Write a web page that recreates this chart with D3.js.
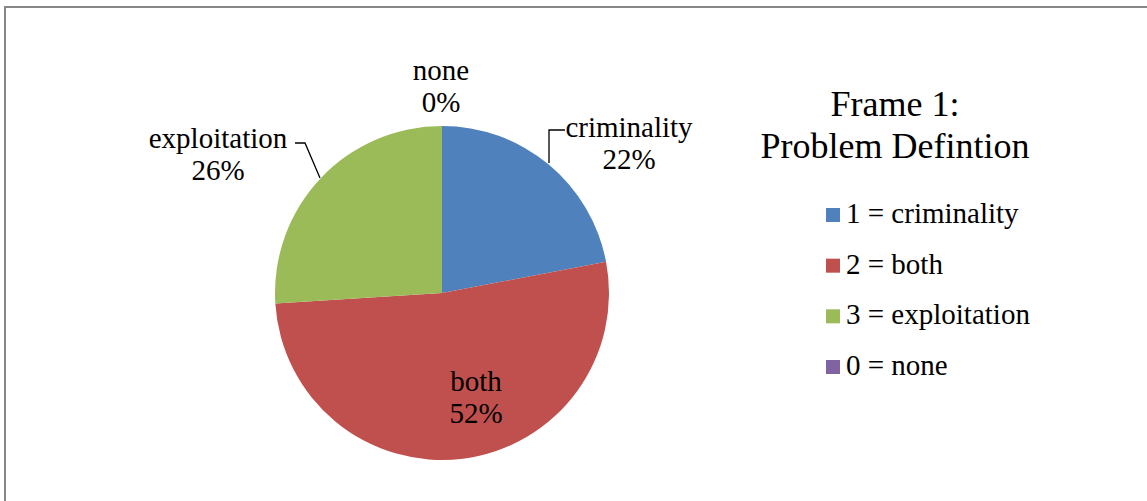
<!DOCTYPE html>
<html><head><meta charset="utf-8">
<script src="https://cdn.jsdelivr.net/npm/d3@7"></script>
<style>body{margin:0;background:#fff}svg{display:block}</style>
</head><body>
<script>
const categories = ["criminality", "both", "exploitation", "none"];
const legendLabels = ["1 = criminality", "2 = both", "3 = exploitation", "0 = none"];
const values = [22, 52, 26, 0];
const colors = ["#4F81BD", "#C0504D", "#9BBB59", "#8064A2"];
const titleLines = ["Frame 1:", "Problem Defintion"];

const W = 1147, H = 501;
const svg = d3.select("body").append("svg").attr("width", W).attr("height", H)
  .attr("font-family", "'Liberation Serif', 'Times New Roman', serif");
svg.append("path").attr("d", "M5,501 V7 H1147").attr("fill", "none").attr("stroke", "#878787").attr("stroke-width", 2);

const cx = 442, cy = 293, R = 167;
const pie = d3.pie().sort(null).value(d => d)(values);
const arc = d3.arc().innerRadius(0).outerRadius(R);
const g = svg.append("g").attr("transform", `translate(${cx},${cy})`);
g.selectAll("path").data(pie).enter().append("path")
  .attr("d", arc).attr("fill", (d, i) => colors[i]);

const total = d3.sum(values);
const labelPos = [[629, 137], [476, 391], [218, 148], [441, 80]];
const fs = 29;
categories.forEach((c, i) => {
  const t = svg.append("text").attr("text-anchor", "middle").attr("font-size", fs)
    .attr("x", labelPos[i][0]).attr("y", labelPos[i][1]);
  t.append("tspan").attr("x", labelPos[i][0]).text(c);
  t.append("tspan").attr("x", labelPos[i][0]).attr("dy", 31.5).text(Math.round(values[i] / total * 100) + "%");
});
// leader lines
svg.append("path").attr("d", "M565,130 H549 V163").attr("fill", "none").attr("stroke", "#000").attr("stroke-width", 1.3);
svg.append("path").attr("d", "M295,143 H305 L320,178").attr("fill", "none").attr("stroke", "#000").attr("stroke-width", 1.3);

// title
titleLines.forEach((l, i) => {
  svg.append("text").attr("x", 895).attr("y", 116 + i * 42).attr("text-anchor", "middle")
    .attr("font-size", 36).text(l);
});

// legend
const ly = d3.scalePoint().domain(legendLabels).range([215, 367]);
legendLabels.forEach((l, i) => {
  svg.append("rect").attr("x", 826).attr("y", ly(l) - 7).attr("width", 14).attr("height", 14).attr("fill", colors[i]);
  svg.append("text").attr("x", 846).attr("y", ly(l) + 8).attr("font-size", 29).text(l);
});
</script>
</body></html>
